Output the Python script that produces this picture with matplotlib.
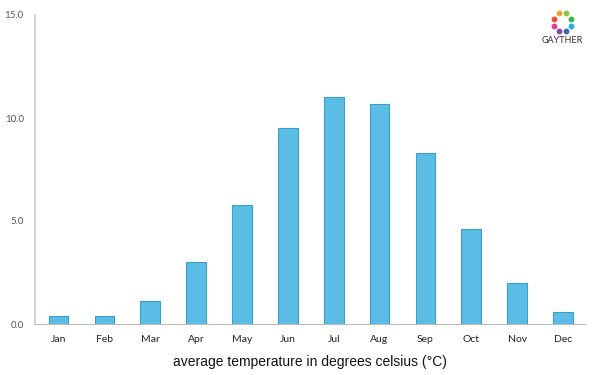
import numpy as np
import matplotlib.pyplot as plt
from matplotlib.lines import Line2D

# monthly average temperature
months = ['Jan', 'Feb', 'Mar', 'Apr', 'May', 'Jun', 'Jul', 'Aug', 'Sep', 'Oct', 'Nov', 'Dec']
temps = [0.4, 0.4, 1.1, 3.0, 5.8, 9.5, 11.0, 10.7, 8.3, 4.6, 2.0, 0.6]
yticks = [0.0, 5.0, 10.0, 15.0]

fig = plt.figure(figsize=(6, 3.75), dpi=100)
ax = fig.add_axes([0.058, 0.136, 0.917, 0.824])

x = np.arange(len(months))
ax.bar(x, temps, width=0.43, color='#5bbde6', edgecolor='#3e9cc8', linewidth=0.8)

ax.set_xlim(-0.52, 11.48)
ax.set_ylim(0, 15)
ax.set_xticks(x)
ax.set_xticklabels(months, fontsize=7.5, color='#222222', family='Lato')
ax.set_yticks(yticks)
ax.set_yticklabels([f'{v:.1f}' for v in yticks], fontsize=7, color='#555555', family='Lato')
ax.tick_params(axis='both', length=0)
ax.tick_params(axis='x', pad=8)
ax.tick_params(axis='y', pad=8)

for s in ['top', 'right']:
    ax.spines[s].set_visible(False)
ax.spines['left'].set_color('#cccccc')
ax.spines['bottom'].set_color('#bbbbbb')
ax.spines['left'].set_linewidth(1.2)

ax.set_xlabel('average temperature in degrees celsius (°C)', fontsize=10,
              family='Liberation Sans', color='#111111', labelpad=8)

# small logo in the top right corner (ring of coloured dots)
logo_cols = ['#8dc63f', '#3bb54a', '#29abe2', '#2e6db4', '#8e44ad', '#e0408a', '#e94b35', '#f0a030']
ang = np.pi / 2 - np.linspace(0, 2 * np.pi, len(logo_cols), endpoint=False) - np.pi / 8
lx, ly = 0.937, 0.941
for a, c in zip(ang, logo_cols):
    fig.add_artist(Line2D([lx + 0.0155 * np.cos(a)], [ly + 0.025 * np.sin(a)], marker='o',
                          markersize=3.2, color=c, transform=fig.transFigure))
fig.text(lx, 0.891, 'GAYTHER', fontsize=6.5, ha='center', va='center', color='#333333', family='Lato')

fig.savefig('out.png', dpi=100)
